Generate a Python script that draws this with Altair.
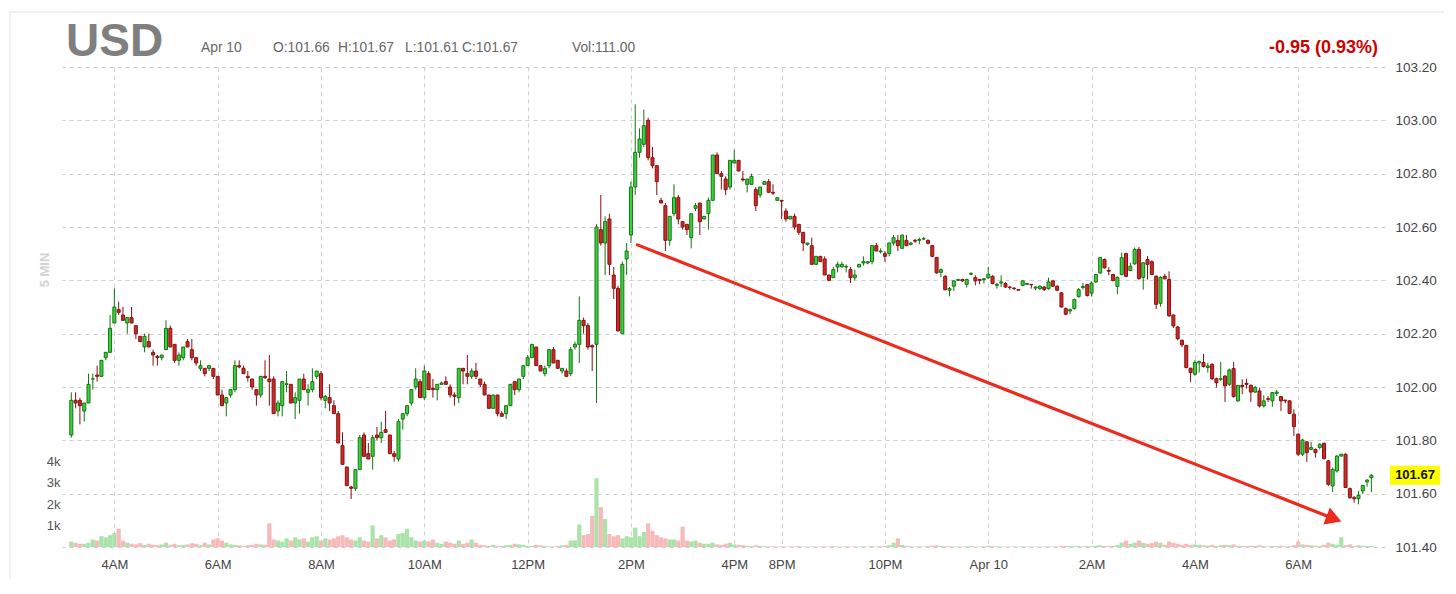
import altair as alt
import pandas as pd

FONT = "Liberation Sans"

# ---------------- data (5-minute candles) ----------------
opens = [
    101.82, 101.95, 101.95, 101.91, 101.94, 102.03, 102.045, 102.04, 102.11, 102.13,
    102.24, 102.29, 102.27, 102.24, 102.26, 102.23, 102.19, 102.15, 102.17, 102.13,
    102.115, 102.11, 102.14, 102.22, 102.16, 102.10, 102.11, 102.17, 102.14, 102.11,
    102.07, 102.07, 102.07, 102.07, 102.04, 101.97, 101.94, 101.97, 101.99, 102.08,
    102.07, 102.04, 102.03, 101.99, 101.97, 102.04, 102.03, 102.03, 101.91, 101.93,
    102.01, 102.01, 101.94, 101.95, 102.03, 101.98, 101.99, 102.04, 102.05, 101.95,
    101.96, 101.93, 101.90, 101.78, 101.70, 101.625, 101.62, 101.69, 101.82, 101.75,
    101.74, 101.82, 101.81, 101.84, 101.82, 101.75, 101.73, 101.88, 101.90, 101.94,
    102.00, 102.02, 101.96, 102.05, 101.995, 101.99, 102.01, 102.02, 102.00, 101.97,
    101.96, 102.07, 102.05, 102.04, 102.06, 102.03, 102.01, 101.97, 101.92, 101.97,
    101.90, 101.90, 101.93, 102.02, 101.99, 102.04, 102.08, 102.11, 102.15, 102.08,
    102.05, 102.08, 102.14, 102.10, 102.06, 102.06, 102.05, 102.15, 102.16, 102.25,
    102.23, 102.155, 102.16, 102.59, 102.54, 102.63, 102.42, 102.37, 102.20, 102.48,
    102.57, 102.75, 102.88, 102.91, 103.00, 102.86, 102.83, 102.70, 102.68, 102.55,
    102.65, 102.71, 102.62, 102.61, 102.56, 102.67, 102.69, 102.63, 102.65, 102.70,
    102.87, 102.80, 102.78, 102.75, 102.84, 102.85, 102.78, 102.76, 102.76, 102.74,
    102.72, 102.76, 102.77, 102.73, 102.70, 102.70, 102.66, 102.63, 102.64, 102.61,
    102.58, 102.535, 102.53, 102.46, 102.49, 102.48, 102.42, 102.41, 102.45, 102.45,
    102.45, 102.44, 102.41, 102.45, 102.465, 102.465, 102.47, 102.53, 102.507, 102.50,
    102.50, 102.54, 102.55, 102.52, 102.55, 102.535, 102.55, 102.55, 102.555, 102.55,
    102.53, 102.486, 102.43, 102.415, 102.363, 102.378, 102.40, 102.403, 102.385, 102.423,
    102.41, 102.403, 102.403, 102.41, 102.415, 102.381, 102.39, 102.388, 102.375, 102.371,
    102.365, 102.381, 102.385, 102.385, 102.371, 102.369, 102.375, 102.369, 102.398, 102.378,
    102.353, 102.294, 102.285, 102.294, 102.339, 102.373, 102.384, 102.352, 102.394, 102.428,
    102.478, 102.437, 102.422, 102.377, 102.422, 102.50, 102.437, 102.462, 102.516, 102.411,
    102.478, 102.47, 102.415, 102.314, 102.415, 102.403, 102.27, 102.225, 102.175, 102.156,
    102.07, 102.048, 102.09, 102.092, 102.073, 102.085, 102.031, 102.029, 102.041, 102.01,
    102.069, 101.948, 102.006, 102.014, 102.006, 101.981, 101.985, 101.929, 101.956, 101.948,
    101.976, 101.964, 101.951, 101.948, 101.898, 101.823, 101.748, 101.794, 101.766, 101.766,
    101.773, 101.789, 101.723, 101.629, 101.685, 101.741, 101.748, 101.619, 101.585, 101.581,
    101.61, 101.644, 101.66,
]

highs = [
    101.98, 101.98, 101.96, 101.94, 102.05, 102.05, 102.08, 102.10, 102.13, 102.27,
    102.37, 102.32, 102.30, 102.26, 102.30, 102.23, 102.19, 102.20, 102.20, 102.14,
    102.12, 102.12, 102.25, 102.23, 102.16, 102.13, 102.15, 102.18, 102.18, 102.11,
    102.10, 102.07, 102.08, 102.07, 102.04, 101.99, 101.96, 101.99, 102.10, 102.10,
    102.08, 102.06, 102.03, 101.99, 102.04, 102.10, 102.12, 102.04, 101.95, 102.02,
    102.06, 102.01, 101.98, 102.03, 102.05, 102.01, 102.07, 102.06, 102.06, 101.97,
    102.01, 101.95, 101.91, 101.83, 101.70, 101.63, 101.69, 101.82, 101.83, 101.79,
    101.82, 101.85, 101.87, 101.91, 101.82, 101.76, 101.88, 101.90, 101.93, 101.99,
    102.07, 102.03, 102.08, 102.06, 102.03, 102.01, 102.02, 102.04, 102.01, 101.98,
    102.07, 102.07, 102.12, 102.07, 102.09, 102.03, 102.02, 101.97, 101.97, 101.97,
    101.91, 101.93, 102.01, 102.02, 102.03, 102.08, 102.12, 102.16, 102.15, 102.08,
    102.08, 102.14, 102.15, 102.10, 102.07, 102.07, 102.15, 102.17, 102.34, 102.26,
    102.24, 102.16, 102.61, 102.72, 102.64, 102.65, 102.45, 102.38, 102.47, 102.54,
    102.77, 103.06, 102.97, 103.04, 103.01, 102.90, 102.83, 102.71, 102.69, 102.64,
    102.76, 102.72, 102.62, 102.61, 102.65, 102.69, 102.69, 102.64, 102.71, 102.87,
    102.88, 102.81, 102.79, 102.85, 102.89, 102.85, 102.81, 102.78, 102.80, 102.75,
    102.75, 102.77, 102.78, 102.76, 102.71, 102.70, 102.67, 102.64, 102.65, 102.61,
    102.58, 102.54, 102.56, 102.49, 102.49, 102.49, 102.42, 102.45, 102.47, 102.47,
    102.46, 102.45, 102.44, 102.46, 102.49, 102.47, 102.53, 102.54, 102.52, 102.51,
    102.54, 102.57, 102.57, 102.57, 102.57, 102.544, 102.556, 102.56, 102.563, 102.553,
    102.531, 102.486, 102.445, 102.419, 102.375, 102.40, 102.406, 102.406, 102.406, 102.431,
    102.419, 102.406, 102.409, 102.45, 102.419, 102.39, 102.419, 102.394, 102.378, 102.373,
    102.366, 102.398, 102.388, 102.385, 102.378, 102.381, 102.378, 102.41, 102.40, 102.381,
    102.356, 102.298, 102.294, 102.331, 102.371, 102.39, 102.386, 102.396, 102.424, 102.487,
    102.482, 102.449, 102.424, 102.415, 102.504, 102.504, 102.466, 102.523, 102.525, 102.466,
    102.491, 102.475, 102.419, 102.415, 102.424, 102.434, 102.272, 102.229, 102.178, 102.158,
    102.073, 102.102, 102.099, 102.124, 102.091, 102.089, 102.035, 102.094, 102.044, 102.069,
    102.094, 102.006, 102.029, 102.031, 102.01, 102.004, 101.998, 101.969, 101.966, 101.979,
    101.989, 101.966, 101.951, 101.951, 101.916, 101.826, 101.806, 101.798, 101.794, 101.769,
    101.789, 101.791, 101.726, 101.698, 101.744, 101.748, 101.751, 101.623, 101.591, 101.61,
    101.631, 101.654, 101.673,
]

lows = [
    101.81, 101.92, 101.86, 101.87, 101.94, 101.99, 102.02, 102.04, 102.10, 102.13,
    102.24, 102.27, 102.25, 102.20, 102.24, 102.18, 102.17, 102.13, 102.15, 102.08,
    102.08, 102.10, 102.14, 102.15, 102.09, 102.08, 102.10, 102.15, 102.10, 102.08,
    102.06, 102.04, 102.06, 102.03, 101.97, 101.93, 101.89, 101.96, 101.98, 102.07,
    102.05, 102.02, 101.99, 101.93, 101.96, 102.03, 101.93, 101.90, 101.89, 101.89,
    101.98, 101.94, 101.88, 101.90, 101.99, 101.93, 101.98, 102.03, 101.95, 101.92,
    101.91, 101.90, 101.79, 101.71, 101.63, 101.58, 101.61, 101.69, 101.74, 101.73,
    101.69, 101.80, 101.79, 101.83, 101.75, 101.72, 101.72, 101.84, 101.89, 101.93,
    101.99, 101.96, 101.95, 101.99, 101.96, 101.95, 102.01, 102.01, 101.96, 101.93,
    101.94, 102.01, 102.01, 102.03, 102.03, 102.00, 101.97, 101.92, 101.92, 101.89,
    101.89, 101.88, 101.93, 101.97, 101.98, 102.03, 102.08, 102.11, 102.08, 102.06,
    102.04, 102.07, 102.09, 102.07, 102.05, 102.04, 102.04, 102.14, 102.09, 102.20,
    102.14, 102.06, 101.94, 102.53, 102.42, 102.42, 102.33, 102.21, 102.20, 102.42,
    102.54, 102.72, 102.86, 102.90, 102.85, 102.82, 102.72, 102.69, 102.51, 102.53,
    102.64, 102.61, 102.59, 102.57, 102.52, 102.66, 102.57, 102.63, 102.59, 102.70,
    102.80, 102.74, 102.72, 102.74, 102.84, 102.81, 102.77, 102.73, 102.76, 102.66,
    102.71, 102.76, 102.73, 102.72, 102.70, 102.63, 102.62, 102.63, 102.59, 102.57,
    102.51, 102.53, 102.46, 102.46, 102.47, 102.42, 102.40, 102.41, 102.43, 102.45,
    102.43, 102.39, 102.40, 102.45, 102.455, 102.46, 102.46, 102.51, 102.50, 102.47,
    102.49, 102.53, 102.51, 102.52, 102.53, 102.531, 102.54, 102.535, 102.551, 102.535,
    102.486, 102.425, 102.412, 102.362, 102.34, 102.36, 102.40, 102.394, 102.373, 102.419,
    102.381, 102.385, 102.388, 102.406, 102.385, 102.369, 102.375, 102.371, 102.365, 102.363,
    102.363, 102.378, 102.385, 102.369, 102.363, 102.363, 102.36, 102.365, 102.375, 102.36,
    102.298, 102.269, 102.273, 102.29, 102.335, 102.365, 102.339, 102.339, 102.39, 102.424,
    102.444, 102.419, 102.396, 102.348, 102.419, 102.411, 102.434, 102.458, 102.403, 102.365,
    102.403, 102.419, 102.292, 102.301, 102.403, 102.263, 102.221, 102.175, 102.149, 102.07,
    102.019, 102.042, 102.054, 102.073, 102.054, 102.026, 101.998, 102.023, 101.944, 102.004,
    101.96, 101.944, 101.973, 101.994, 101.944, 101.979, 101.923, 101.923, 101.944, 101.926,
    101.966, 101.91, 101.939, 101.898, 101.816, 101.741, 101.741, 101.719, 101.764, 101.735,
    101.766, 101.729, 101.629, 101.606, 101.679, 101.739, 101.623, 101.581, 101.566, 101.56,
    101.598, 101.626, 101.606,
]

closes = [
    101.95, 101.94, 101.93, 101.94, 102.01, 102.03, 102.04, 102.10, 102.13, 102.22,
    102.30, 102.28, 102.25, 102.26, 102.24, 102.20, 102.17, 102.19, 102.15, 102.12,
    102.11, 102.12, 102.22, 102.15, 102.10, 102.12, 102.15, 102.15, 102.11, 102.09,
    102.08, 102.05, 102.08, 102.04, 101.97, 101.93, 101.96, 101.99, 102.08, 102.075,
    102.05, 102.035, 102.00, 101.97, 102.04, 102.035, 102.02, 101.90, 101.94, 102.02,
    102.012, 101.94, 101.96, 102.03, 101.99, 101.99, 102.02, 102.06, 101.96, 101.965,
    101.94, 101.90, 101.79, 101.71, 101.63, 101.62, 101.69, 101.81, 101.74, 101.73,
    101.81, 101.81, 101.83, 101.83, 101.75, 101.74, 101.87, 101.90, 101.93, 101.99,
    102.03, 101.96, 102.06, 101.99, 101.99, 102.01, 102.015, 102.01, 101.97, 101.965,
    102.07, 102.06, 102.04, 102.06, 102.04, 102.01, 101.97, 101.92, 101.97, 101.90,
    101.89, 101.93, 102.01, 101.99, 102.03, 102.08, 102.11, 102.16, 102.08, 102.06,
    102.07, 102.14, 102.09, 102.07, 102.07, 102.04, 102.14, 102.16, 102.25, 102.23,
    102.15, 102.15, 102.60, 102.54, 102.62, 102.46, 102.37, 102.21, 102.46, 102.51,
    102.75, 102.88, 102.93, 102.98, 102.86, 102.83, 102.77, 102.69, 102.55, 102.64,
    102.71, 102.63, 102.60, 102.59, 102.65, 102.68, 102.62, 102.64, 102.70, 102.87,
    102.80, 102.79, 102.74, 102.85, 102.85, 102.81, 102.777, 102.78, 102.79, 102.68,
    102.75, 102.77, 102.73, 102.727, 102.71, 102.697, 102.63, 102.64, 102.60, 102.58,
    102.54, 102.54, 102.46, 102.49, 102.47, 102.42, 102.40, 102.44, 102.46, 102.46,
    102.452, 102.41, 102.42, 102.46, 102.47, 102.47, 102.53, 102.51, 102.51, 102.49,
    102.54, 102.56, 102.53, 102.57, 102.53, 102.54, 102.547, 102.553, 102.556, 102.539,
    102.49, 102.428, 102.44, 102.365, 102.369, 102.398, 102.403, 102.398, 102.403, 102.425,
    102.398, 102.40, 102.406, 102.423, 102.388, 102.385, 102.394, 102.375, 102.373, 102.369,
    102.363, 102.398, 102.388, 102.383, 102.375, 102.378, 102.365, 102.394, 102.378, 102.363,
    102.30, 102.273, 102.29, 102.328, 102.365, 102.377, 102.343, 102.39, 102.422, 102.485,
    102.447, 102.434, 102.399, 102.411, 102.485, 102.415, 102.453, 102.516, 102.406, 102.466,
    102.46, 102.422, 102.31, 102.411, 102.406, 102.267, 102.229, 102.181, 102.158, 102.073,
    102.054, 102.092, 102.095, 102.077, 102.079, 102.031, 102.016, 102.031, 102.004, 102.064,
    101.964, 102.006, 102.001, 102.01, 101.981, 101.998, 101.929, 101.948, 101.954, 101.979,
    101.981, 101.948, 101.948, 101.901, 101.851, 101.748, 101.801, 101.754, 101.773, 101.754,
    101.785, 101.731, 101.635, 101.691, 101.741, 101.748, 101.623, 101.585, 101.581, 101.594,
    101.631, 101.651, 101.669,
]

volumes_k = [
    0.25, 0.2, 0.15, 0.15, 0.2, 0.35, 0.3, 0.5, 0.45, 0.55,
    0.65, 0.85, 0.3, 0.2, 0.15, 0.12, 0.18, 0.1, 0.15, 0.1,
    0.1, 0.12, 0.2, 0.1, 0.15, 0.08, 0.1, 0.12, 0.18, 0.15,
    0.1, 0.2, 0.12, 0.35, 0.4, 0.3, 0.2, 0.12, 0.1, 0.08,
    0.05, 0.08, 0.1, 0.15, 0.12, 0.1, 1.1, 0.35, 0.3, 0.25,
    0.4, 0.3, 0.45, 0.35, 0.4, 0.25, 0.45, 0.5, 0.3, 0.4,
    0.35, 0.4, 0.5, 0.55, 0.45, 0.35, 0.3, 0.45, 0.3, 0.25,
    1.0, 0.4, 0.55, 0.45, 0.3, 0.35, 0.6, 0.65, 0.85, 0.45,
    0.3, 0.25, 0.3, 0.25, 0.35, 0.2, 0.15, 0.25, 0.2, 0.15,
    0.3, 0.15, 0.2, 0.35, 0.2, 0.1, 0.08, 0.05, 0.1, 0.05,
    0.05, 0.08, 0.1, 0.15, 0.12, 0.1, 0.05, 0.05, 0.1, 0.08,
    0.05, 0.03, 0.03, 0.05, 0.08, 0.1, 0.3, 0.3, 1.05, 0.55,
    0.6, 1.45, 3.2, 1.85, 1.3, 0.6, 0.5, 0.55, 0.4, 0.5,
    0.45, 0.9, 0.5, 0.7, 1.1, 0.75, 0.55, 0.45, 0.4, 0.35,
    0.35, 0.3, 0.95, 0.3, 0.25, 0.3, 0.2, 0.15, 0.15, 0.2,
    0.12, 0.1, 0.15, 0.2, 0.12, 0.1, 0.08, 0.05, 0.04, 0.08,
    0.05, 0.04, 0.03, 0.03, 0.02, 0.03, 0.02, 0.02, 0.03, 0.04,
    0.02, 0.02, 0.03, 0.02, 0.02, 0.03, 0.02, 0.04, 0.02, 0.02,
    0.03, 0.02, 0.02, 0.02, 0.03, 0.02, 0.04, 0.02, 0.03, 0.05,
    0.08, 0.2, 0.4, 0.1, 0.05, 0.03, 0.02, 0.03, 0.02, 0.04,
    0.06, 0.08, 0.05, 0.04, 0.03, 0.03, 0.02, 0.02, 0.03, 0.05,
    0.02, 0.02, 0.03, 0.05, 0.04, 0.03, 0.02, 0.02, 0.02, 0.02,
    0.02, 0.03, 0.02, 0.02, 0.02, 0.02, 0.02, 0.03, 0.02, 0.03,
    0.06, 0.05, 0.04, 0.05, 0.04, 0.03, 0.05, 0.04, 0.06, 0.08,
    0.05, 0.04, 0.05, 0.1, 0.2, 0.3, 0.15, 0.2, 0.3, 0.2,
    0.15, 0.18, 0.25, 0.2, 0.1, 0.25, 0.2, 0.15, 0.1, 0.15,
    0.1, 0.12, 0.1, 0.08, 0.06, 0.1, 0.05, 0.08, 0.1, 0.08,
    0.12, 0.06, 0.05, 0.04, 0.06, 0.05, 0.08, 0.04, 0.03, 0.05,
    0.04, 0.06, 0.03, 0.04, 0.08, 0.25, 0.12, 0.1, 0.08, 0.06,
    0.05, 0.1, 0.2, 0.15, 0.1, 0.45, 0.08, 0.12, 0.05, 0.08,
    0.06, 0.05, 0.05,
]

tick_pos = [11, 35, 59, 83, 107, 131, 155, 166, 190, 214, 238, 262, 286]
tick_lab = ["4AM", "6AM", "8AM", "10AM", "12PM", "2PM", "4PM", "8PM",
            "10PM", "Apr 10", "2AM", "4AM", "6AM"]
price_ticks = [101.4, 101.6, 101.8, 102.0, 102.2, 102.4, 102.6, 102.8, 103.0, 103.2]
vol_ticks = [1, 2, 3, 4]

# trend arrow (in candle index / price units)
arrow_i = [132.5, 294.3]
arrow_p = [102.533, 101.506]

n = len(closes)
assert all(len(a) == n for a in (opens, highs, lows, volumes_k)), [len(a) for a in (opens, highs, lows, closes, volumes_k)]

df = pd.DataFrame({
    "i": list(range(1, n + 1)),
    "open": opens, "high": highs, "low": lows, "close": closes, "vol": volumes_k,
})
df["dir"] = ["up" if c >= o else "down" for o, c in zip(opens, closes)]

# ---------------- encodings ----------------
label_expr = " : ".join(f"datum.value == {p} ? '{l}'" for p, l in zip(tick_pos, tick_lab)) + " : ''"

GRID = "#cfcfcf"
x_enc = alt.X(
    "i:Q",
    scale=alt.Scale(domain=[0, 305], nice=False, zero=False),
    axis=alt.Axis(values=tick_pos, labelExpr=label_expr, title=None, grid=True,
                  gridColor=GRID, gridDash=[4, 4], ticks=False, domain=False,
                  labelPadding=11, labelFontSize=13, labelColor="#444444",
                  labelFont=FONT, labelFlush=False, labelOverlap=False),
)

p_scale = alt.Scale(domain=[101.4, 103.2], nice=False, zero=False)
p_axis = alt.Axis(orient="right", values=price_ticks, format=".2f", title=None,
                  grid=True, gridColor=GRID, gridDash=[4, 4], ticks=False,
                  domain=False, labelPadding=10, labelFontSize=13.5,
                  labelColor="#444444", labelFont=FONT)


def py(field):
    return alt.Y(field, scale=p_scale, axis=p_axis)


dir_dom = ["up", "down"]
stroke_enc = alt.Stroke("dir:N", scale=alt.Scale(domain=dir_dom, range=["#137413", "#861010"]), legend=None)
fill_enc = alt.Fill("dir:N", scale=alt.Scale(domain=dir_dom, range=["#3fd23f", "#cf2a2a"]), legend=None)

base = alt.Chart(df)

volume = base.mark_bar(size=4.2).encode(
    x=x_enc,
    y=alt.Y("vol:Q", scale=alt.Scale(domain=[0, 22.33], nice=False, zero=True),
            axis=alt.Axis(orient="left", values=vol_ticks, labelExpr="datum.value + 'k'",
                          title=None, grid=False, ticks=False, domain=False,
                          labelPadding=2, labelFontSize=13, labelColor="#555555",
                          labelFont=FONT)),
    color=alt.Color("dir:N", scale=alt.Scale(domain=dir_dom, range=["#a9e3a9", "#f7b9b9"]), legend=None),
)

wicks = base.mark_rule(strokeWidth=1).encode(x=x_enc, y=py("low:Q"), y2="high:Q", stroke=stroke_enc)
bodies = base.mark_bar(size=3, strokeWidth=1).encode(
    x=x_enc, y=py("open:Q"), y2="close:Q", fill=fill_enc, stroke=stroke_enc)

arrow_df = pd.DataFrame({"i": arrow_i, "p": arrow_p})
arrow_line = alt.Chart(arrow_df).mark_line(color="#ec2a1e", strokeWidth=3.2, strokeCap="round").encode(
    x=x_enc, y=py("p:Q"))
arrow_head = alt.Chart(arrow_df.tail(1)).mark_point(
    shape="triangle-right", filled=True, size=330, angle=21, color="#ec2a1e", opacity=1
).encode(x=x_enc, y=py("p:Q"))

last = df.tail(1)
last_box = alt.Chart(last).mark_tick(orient="horizontal", size=50, thickness=19,
                                     color="#ffff00", opacity=1).encode(
    x=alt.value(1353), y=py("close:Q"))
last_txt = alt.Chart(last).mark_text(font=FONT, fontSize=13, fontWeight="bold", color="#111111").encode(
    x=alt.value(1353), y=py("close:Q"), text=alt.Text("close:Q", format=".2f"))


def label(text, x, y, size, color, weight="normal", align="left", baseline="middle", angle=None):
    kw = dict(font=FONT, fontSize=size, color=color, fontWeight=weight, align=align, baseline=baseline)
    if angle is not None:
        kw["angle"] = angle
    return alt.Chart(pd.DataFrame({"t": [text]})).mark_text(**kw).encode(
        x=alt.value(x), y=alt.value(y), text="t:N")


HDR = 13.8
texts = [
    label("USD", 4, -11, 46, "#7f7f7f", weight="bold", baseline="alphabetic"),
    label("Apr 10", 139, -19, HDR, "#666666"),
    label("O:101.66", 211, -19, HDR, "#666666"),
    label("H:101.67", 276, -19, HDR, "#666666"),
    label("L:101.61", 343, -19, HDR, "#666666"),
    label("C:101.67", 400, -19, HDR, "#666666"),
    label("Vol:111.00", 510, -19, HDR, "#666666"),
    label("-0.95 (0.93%)", 1316, -19, 18, "#cc0000", weight="bold", align="right"),
    label("5 MIN", -17, 203, 13, "#d2d2d2", weight="bold", align="center", angle=270),
]

frame_df = pd.DataFrame({"k": [0]})
top_line = alt.Chart(frame_df).mark_rule(color="#e4e4e4", strokeWidth=1).encode(
    x=alt.value(-53), x2=alt.value(1382), y=alt.value(-55))
left_line = alt.Chart(frame_df).mark_rule(color="#e4e4e4", strokeWidth=1).encode(
    x=alt.value(-52), y=alt.value(-55), y2=alt.value(520))

price_layer = alt.layer(wicks, bodies, arrow_line, arrow_head, last_box, last_txt,
                        top_line, left_line, *texts)

chart = alt.layer(volume, price_layer).resolve_scale(y="independent").properties(
    width=1323,
    height=480,
    autosize=alt.AutoSizeParams(type="none"),
    padding={"left": 54, "top": 59, "right": 59, "bottom": 31},
    background="white",
).configure_view(strokeWidth=0)

chart.save("out.html", embed_options={"renderer": "svg", "actions": False})
